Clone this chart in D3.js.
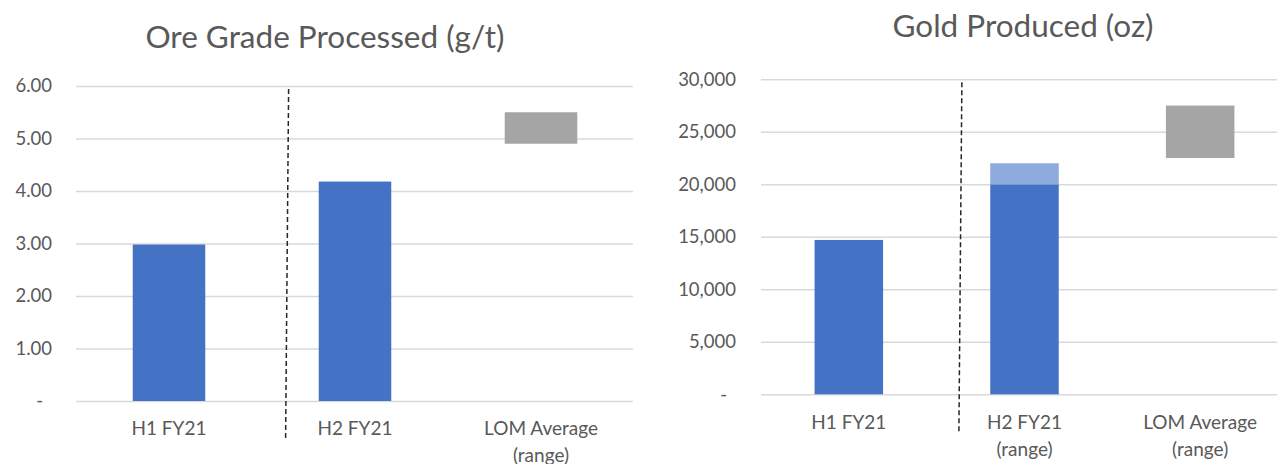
<!DOCTYPE html>
<html>
<head>
<meta charset="utf-8">
<script src="https://cdn.jsdelivr.net/npm/d3@7"></script>
<style>
  html, body { margin: 0; padding: 0; background: #fff; }
  svg { display: block; }
  text { font-family: Lato, "Open Sans", sans-serif; fill: #595959; }
</style>
</head>
<body>
<svg id="chart" width="1277" height="464"></svg>
<script>
// Ore grade processed (g/t)
const gradeCategories = ["H1 FY21", "H2 FY21", "LOM Average\n(range)"];
const gradeActual = [2.98, 4.18, null];
const gradeRangeLow = [null, null, 4.9];
const gradeRangeHigh = [null, null, 5.5];
const gradeTicks = [0, 1, 2, 3, 4, 5, 6];

// Gold produced (oz)
const goldCategories = ["H1 FY21", "H2 FY21\n(range)", "LOM Average\n(range)"];
const goldActual = [14700, 20000, null];
const goldRangeLow = [null, 20000, 22500];
const goldRangeHigh = [null, 22000, 27500];
const goldTicks = [0, 5000, 10000, 15000, 20000, 25000, 30000];

const BLUE = "#4472C4";
const LIGHT_BLUE = "#8FAADC";
const GREY = "#A5A5A5";

const svg = d3.select("#chart");

function drawPanel(cfg) {
  const g = svg.append("g");
  const x = d3.scaleBand()
    .domain(cfg.categories)
    .range([cfg.left, cfg.right])
    .paddingInner(0.61)
    .paddingOuter(0.305);
  const y = d3.scaleLinear()
    .domain([0, cfg.ticks[cfg.ticks.length - 1]])
    .range([cfg.bottom, cfg.top]);

  // value axis with gridlines
  const axis = d3.axisLeft(y)
    .tickValues(cfg.ticks)
    .tickSizeInner(-(cfg.gridRight - cfg.left))
    .tickSizeOuter(0)
    .tickPadding(cfg.labelGap)
    .tickFormat(cfg.format);
  const ag = g.append("g")
    .attr("transform", `translate(${cfg.left},0)`)
    .call(axis);
  ag.select(".domain").remove();
  ag.selectAll(".tick line").attr("stroke", "#d9d9d9").attr("stroke-width", 1.5);
  ag.selectAll(".tick text")
    .style("font-family", "Lato, sans-serif")
    .style("font-size", "18.5px")
    .attr("fill", "#595959")
    .attr("dx", d => d === 0 ? -9 : 0);

  // solid bars
  g.selectAll("rect.actual")
    .data(cfg.categories.map((c, i) => ({ c, v: cfg.actual[i] })).filter(d => d.v != null))
    .join("rect")
    .attr("class", "actual")
    .attr("x", d => x(d.c))
    .attr("width", x.bandwidth())
    .attr("y", d => y(d.v))
    .attr("height", d => y(0) - y(d.v))
    .attr("fill", BLUE);

  // range boxes
  g.selectAll("rect.range")
    .data(cfg.categories.map((c, i) => ({ c, i, lo: cfg.rangeLow[i], hi: cfg.rangeHigh[i] })).filter(d => d.lo != null))
    .join("rect")
    .attr("class", "range")
    .attr("x", d => x(d.c))
    .attr("width", x.bandwidth())
    .attr("y", d => y(d.hi))
    .attr("height", d => y(d.lo) - y(d.hi))
    .attr("fill", d => cfg.rangeColors[d.i]);

  // dashed divider between the first half and the rest
  const step = x.step();
  const divX = x(cfg.categories[1]) - step * 0.17;
  g.append("line")
    .attr("x1", divX + 1.5).attr("y1", cfg.top + cfg.divTop)
    .attr("x2", divX - 1.5).attr("y2", cfg.bottom + cfg.divBottom)
    .attr("stroke", "#262626")
    .attr("stroke-width", 1.5)
    .attr("stroke-dasharray", "5,3");

  // category labels
  cfg.categories.forEach(c => {
    const lines = c.split("\n");
    const t = g.append("text")
      .attr("text-anchor", "middle")
      .style("font-size", "19px")
      .attr("x", x(c) + x.bandwidth() / 2)
      .attr("y", cfg.bottom + cfg.labelDrop);
    lines.forEach((ln, k) => {
      t.append("tspan")
        .attr("x", x(c) + x.bandwidth() / 2)
        .attr("dy", k === 0 ? 0 : 27)
        .text(ln);
    });
  });

  // title
  g.append("text")
    .attr("x", cfg.titleX)
    .attr("y", cfg.titleY)
    .attr("text-anchor", "middle")
    .style("font-size", "31.5px")
    .text(cfg.title);
}

drawPanel({
  title: "Ore Grade Processed (g/t)",
  titleX: 325, titleY: 48,
  categories: gradeCategories,
  actual: gradeActual,
  rangeLow: gradeRangeLow,
  rangeHigh: gradeRangeHigh,
  rangeColors: [null, null, GREY],
  ticks: gradeTicks,
  format: d => d === 0 ? "-" : d3.format(".2f")(d),
  left: 76, right: 634, gridRight: 633,
  top: 86, bottom: 401,
  labelGap: 24, labelDrop: 34,
  divTop: 3, divBottom: 37
});

drawPanel({
  title: "Gold Produced (oz)",
  titleX: 1023, titleY: 37,
  categories: goldCategories,
  actual: goldActual,
  rangeLow: goldRangeLow,
  rangeHigh: goldRangeHigh,
  rangeColors: [null, LIGHT_BLUE, GREY],
  ticks: goldTicks,
  format: d => d === 0 ? "-" : d3.format(",")(d),
  left: 761, right: 1288, gridRight: 1277,
  top: 79.3, bottom: 394.3,
  labelGap: 25, labelDrop: 35,
  divTop: 3, divBottom: 39
});
</script>
</body>
</html>
